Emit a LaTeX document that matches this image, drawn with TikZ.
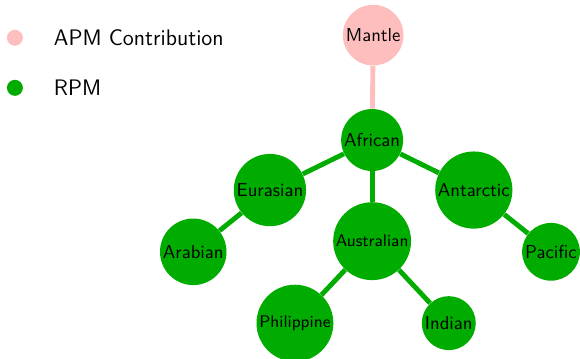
\documentclass[tikz,border=0pt]{standalone}
\usetikzlibrary{positioning}

\definecolor{rpmgreen}{RGB}{0,172,0}
\definecolor{apmpink}{RGB}{255,190,190}

\begin{document}
\begin{tikzpicture}
[
  font=\sffamily,
  plate/.style={circle, fill=rpmgreen, inner sep=1pt, text=black},
  apm/.style={circle, fill=apmpink, inner sep=1pt, text=black},
  link/.style={rpmgreen, line width=2.6pt},
  apmlink/.style={apmpink, line width=2.6pt},
  dot/.style={circle, inner sep=0pt, minimum size=0.3cm}
]
  \useasboundingbox (0,0) rectangle (10.895,-6.725);

  \node[dot, fill=apmpink] (keyapm) at (0.28,-0.71) {};
  \node[dot, fill=rpmgreen] (keyrpm) at (0.28,-1.65) {};
  \node[anchor=west, font=\sffamily\large] (keyapmtext) at (0.89,-0.71) {APM Contribution};
  \node[anchor=west, font=\sffamily\large] (keyrpmtext) at (0.89,-1.65) {RPM};

  \node[apm] (mantle) at (7.01,-0.66) {Mantle};
  \node[plate] (african) at (6.99,-2.63) {African};
  \node[plate] (eurasian) at (5.07,-3.57) {Eurasian};
  \node[plate] (antarctic) at (8.90,-3.57) {Antarctic};
  \node[plate, font=\sffamily\small, minimum size=1.43cm] (australian) at (6.99,-4.53) {Australian};
  \node[plate] (arabian) at (3.63,-4.73) {Arabian};
  \node[plate] (pacific) at (10.35,-4.73) {Pacific};
  \node[plate, font=\sffamily\small, minimum size=1.39cm] (philippine) at (5.54,-6.07) {Philippine};
  \node[plate] (indian) at (8.43,-6.07) {Indian};

  \draw[apmlink] (mantle) -- (african);
  \draw[link] (african) -- (eurasian);
  \draw[link] (african) -- (australian);
  \draw[link] (african) -- (antarctic);
  \draw[link] (eurasian) -- (arabian);
  \draw[link] (australian) -- (philippine);
  \draw[link] (australian) -- (indian);
  \draw[link] (antarctic) -- (pacific);
\end{tikzpicture}
\end{document}
